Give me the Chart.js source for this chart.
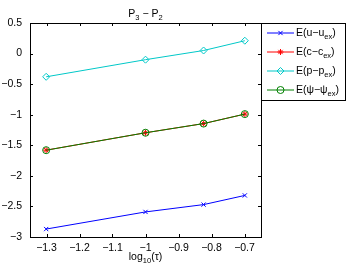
<!DOCTYPE html>
<html>
<head>
<meta charset="utf-8">
<script src="https://cdn.jsdelivr.net/npm/chart.js@4/dist/chart.umd.min.js"></script>
<style>
  html, body { margin: 0; padding: 0; background: #fff; }
  #wrap { width: 354px; height: 273px; }
</style>
</head>
<body>
<div id="wrap"><canvas id="myChart" width="354" height="273"></canvas></div>
<script>
// log10(tau) values and error curves
const xVals = [-1.301, -1, -0.824, -0.699];
const errU = [-2.87, -2.59, -2.47, -2.32];
const errC = [-1.58, -1.295, -1.145, -0.99];
const errP = [-0.38, -0.10, 0.05, 0.21];
const errPsi = [-1.58, -1.295, -1.145, -0.99];

const xTicks = [-1.3, -1.2, -1.1, -1, -0.9, -0.8, -0.7];
const yTicks = [0.5, 0, -0.5, -1, -1.5, -2, -2.5, -3];

const seriesNames = [
    [["E(u\u2212u", 0], ["ex", 1], [")", 0]],
    [["E(c\u2212c", 0], ["ex", 1], [")", 0]],
    [["E(p\u2212p", 0], ["ex", 1], [")", 0]],
    [["E(\u03c8\u2212\u03c8", 0], ["ex", 1], [")", 0]],
];
const seriesColors = ["#0000ff", "#ff0000", "#00c8c8", "#008000"];
const seriesMarkers = ["crossRot", "star", "rectRot", "circle"];
const seriesRadius = [3, 3, 3.5, 3.5];
const seriesData = [errU, errC, errP, errPsi];

const FONT = "Liberation Sans, Arial, sans-serif";

function fmt(v) {
    let s = String(Number(v.toFixed(1)));
    return s.replace("-", "\u2212");
}

function toPoints(ys) {
    return xVals.map((x, i) => ({ x: x, y: ys[i] }));
}

// text with subscript parts
function richWidth(ctx, parts, size) {
    let w = 0;
    for (let p of parts) {
        ctx.font = (p[1] ? size * 0.72 : size) + "px " + FONT;
        w += ctx.measureText(p[0]).width;
    }
    return w;
}

function drawRich(ctx, parts, x, y, size) {
    ctx.textAlign = "left";
    ctx.textBaseline = "middle";
    for (let p of parts) {
        ctx.font = (p[1] ? size * 0.72 : size) + "px " + FONT;
        ctx.fillText(p[0], x, p[1] ? y + size * 0.35 : y);
        x += ctx.measureText(p[0]).width;
    }
}

function drawMarker(ctx, style, x, y, color, radius) {
    ctx.save();
    ctx.strokeStyle = color;
    ctx.fillStyle = "rgba(0,0,0,0)";
    ctx.lineWidth = 1;
    if (Chart.helpers && Chart.helpers.drawPoint) {
        Chart.helpers.drawPoint(ctx, { pointStyle: style, radius: radius, borderWidth: 1 }, x, y);
    }
    ctx.restore();
}

const decor = {
    id: "decor",
    afterDraw(chart) {
        const ctx = chart.ctx;
        const a = chart.chartArea;
        const xs = chart.scales.x;
        const ys = chart.scales.y;
        ctx.save();
        ctx.strokeStyle = "#000";
        ctx.lineWidth = 1;
        // box
        ctx.strokeRect(Math.round(a.left) + 0.5, Math.round(a.top) + 0.5,
            Math.round(a.right - a.left), Math.round(a.bottom - a.top));
        // inside ticks
        ctx.beginPath();
        for (let t of xTicks) {
            let px = Math.round(xs.getPixelForValue(t)) + 0.5;
            ctx.moveTo(px, a.bottom); ctx.lineTo(px, a.bottom - 3);
            ctx.moveTo(px, a.top); ctx.lineTo(px, a.top + 3);
        }
        for (let t of yTicks) {
            let py = Math.round(ys.getPixelForValue(t)) + 0.5;
            ctx.moveTo(a.left, py); ctx.lineTo(a.left + 3, py);
            ctx.moveTo(a.right, py); ctx.lineTo(a.right - 3, py);
        }
        ctx.stroke();

        ctx.fillStyle = "#000";
        // title
        const title = [["P", 0], ["3", 1], [" \u2212 P", 0], ["2", 1]];
        let tw = richWidth(ctx, title, 10.5);
        drawRich(ctx, title, (a.left + a.right) / 2 - tw / 2, 14, 10.5);
        // x label
        const xlab = [["log", 0], ["10", 1], ["(\u03c4)", 0]];
        let xw = richWidth(ctx, xlab, 10.5);
        drawRich(ctx, xlab, (a.left + a.right) / 2 - xw / 2, 257, 10.5);

        // legend
        const lx = Math.round(a.right) + 0.5;
        const ly = Math.round(a.top) + 0.5;
        ctx.fillStyle = "#fff";
        ctx.fillRect(lx, ly, 84, 77);
        ctx.strokeStyle = "#000";
        ctx.strokeRect(lx, ly, 84, 77);
        for (let i = 0; i < 4; i++) {
            let y = 33 + i * 19;
            ctx.strokeStyle = seriesColors[i];
            ctx.beginPath();
            ctx.moveTo(267, y); ctx.lineTo(294, y);
            ctx.stroke();
            drawMarker(ctx, seriesMarkers[i], 280.5, y, seriesColors[i], seriesRadius[i]);
            ctx.fillStyle = "#000";
            drawRich(ctx, seriesNames[i], 296, y, 10.5);
        }
        ctx.restore();
    }
};

const datasets = seriesData.map((d, i) => ({
    label: "s" + i,
    data: toPoints(d),
    showLine: true,
    borderColor: seriesColors[i],
    backgroundColor: "rgba(0,0,0,0)",
    borderWidth: 1,
    pointStyle: seriesMarkers[i],
    pointRadius: seriesRadius[i],
    pointBorderWidth: 1,
    order: 4 - i,
}));

new Chart(document.getElementById("myChart"), {
    type: "scatter",
    data: { datasets: datasets },
    options: {
        responsive: false,
        animation: false,
        devicePixelRatio: 1,
        layout: { padding: { left: 0, right: 93, top: 23, bottom: 0 } },
        plugins: { legend: { display: false }, tooltip: { enabled: false } },
        scales: {
            x: {
                type: "linear",
                min: -1.35,
                max: -0.65,
                afterBuildTicks: (s) => { s.ticks = xTicks.map((v) => ({ value: v })); },
                afterFit: (s) => { s.height = 36; },
                grid: { display: false, drawTicks: false },
                border: { display: false },
                ticks: {
                    padding: 5,
                    color: "#000",
                    font: { family: FONT, size: 10.5 },
                    maxRotation: 0,
                    callback: (v) => fmt(v),
                },
            },
            y: {
                type: "linear",
                min: -3,
                max: 0.5,
                afterBuildTicks: (s) => { s.ticks = yTicks.map((v) => ({ value: v })); },
                afterFit: (s) => { s.width = 30; },
                grid: { display: false, drawTicks: false },
                border: { display: false },
                ticks: {
                    padding: 8,
                    color: "#000",
                    font: { family: FONT, size: 10.5 },
                    callback: (v) => fmt(v),
                },
            },
        },
    },
    plugins: [decor],
});
</script>
</body>
</html>
